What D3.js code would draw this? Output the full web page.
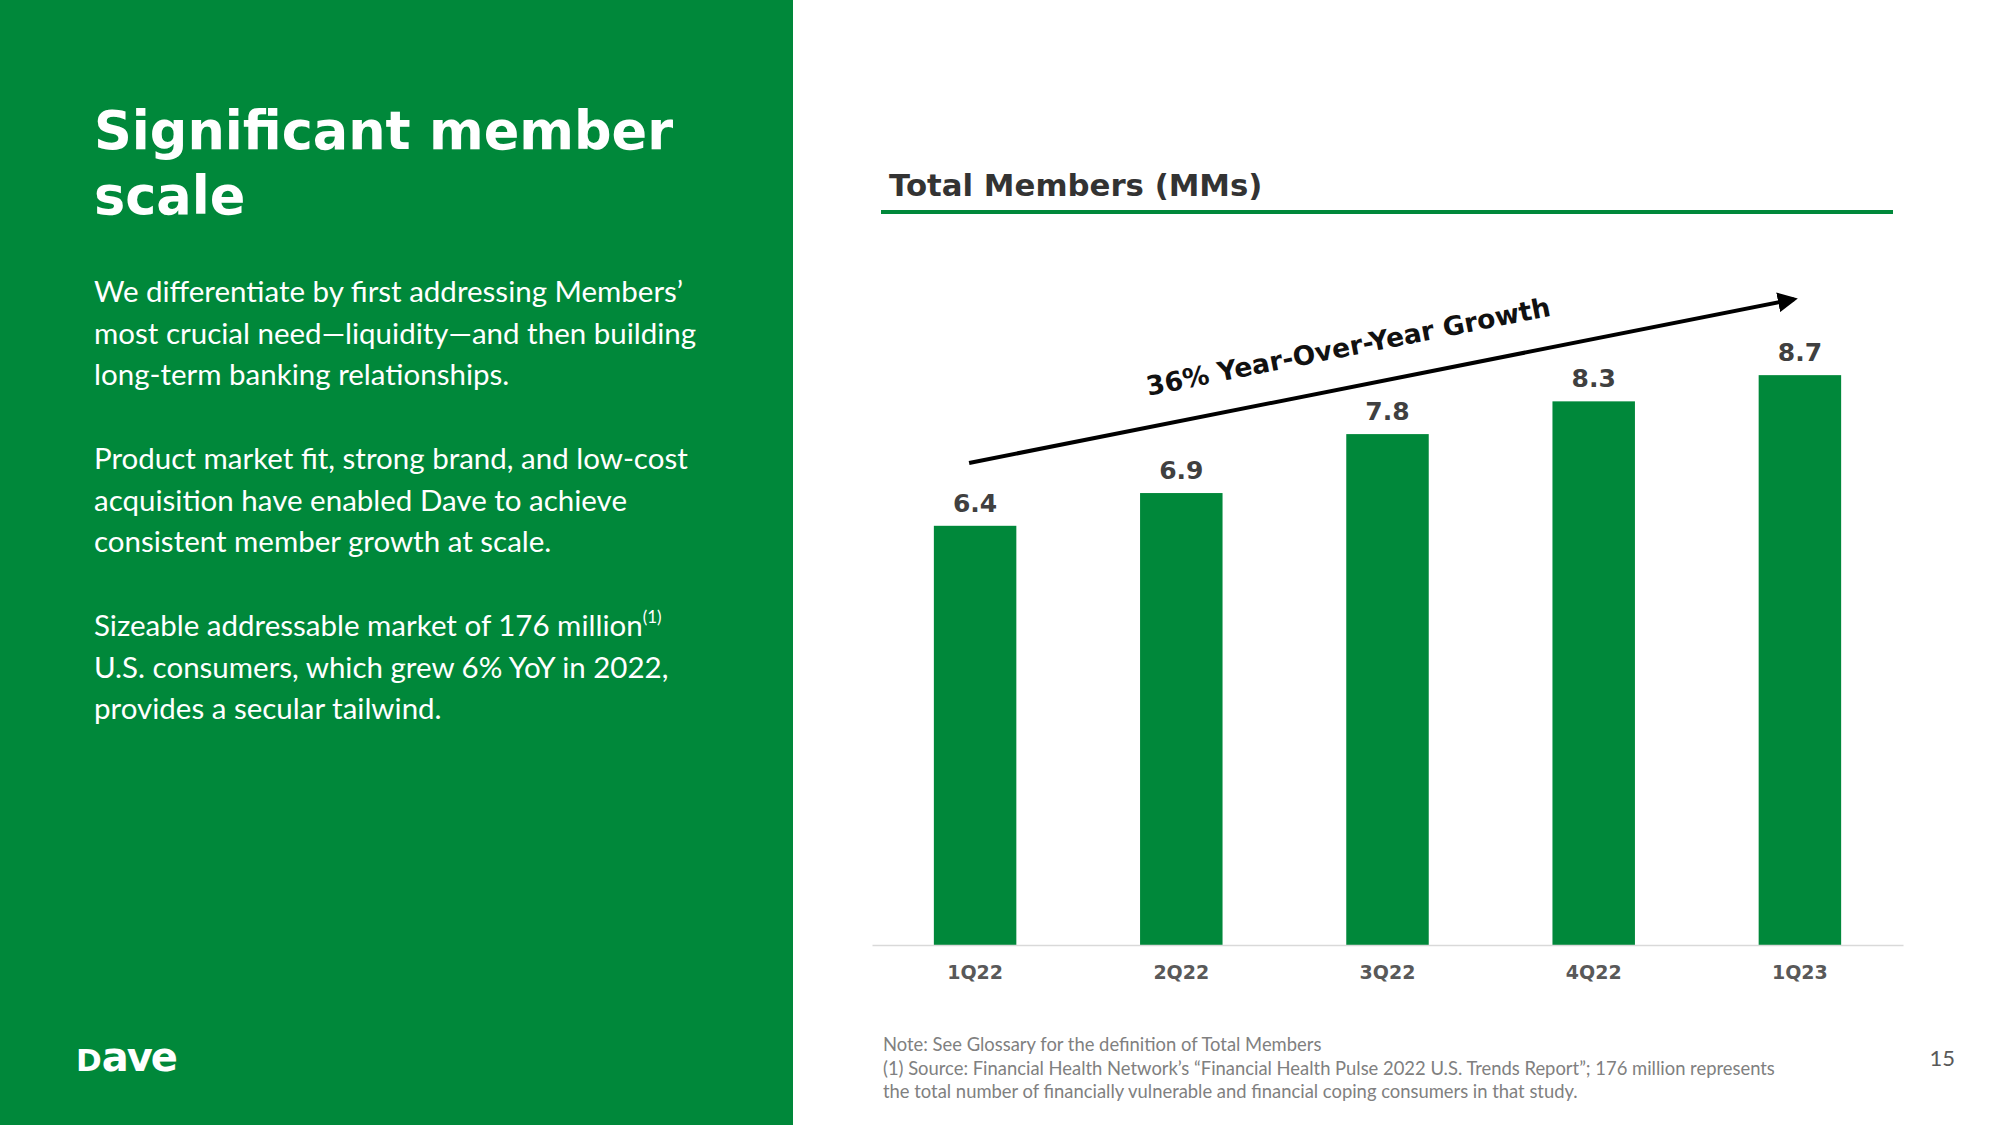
<!DOCTYPE html>
<html lang="en">
<head>
    <meta charset="UTF-8">
    <title>Significant member scale</title>
    <script src="https://d3js.org/d3.v7.min.js"></script>
    <style>
        body { margin: 0; background: #fff; }
        svg { display: block; }
        .head { font-family: "DejaVu Sans", sans-serif; font-weight: bold; }
        .body { font-family: Lato, sans-serif; }
    </style>
</head>
<body>
    <svg id="svg" width="2000" height="1125"></svg>
    <script>
        // chart data
        const quarters = ["1Q22", "2Q22", "3Q22", "4Q22", "1Q23"];
        const members = [6.4, 6.9, 7.8, 8.3, 8.7];
        // growth arrow, in member units (start level at 1Q22, end level at 1Q23)
        const arrowLevels = [7.36, 9.86];
        const arrowLabel = "36% Year-Over-Year Growth";

        const titleLines = ["Significant member", "scale"];
        const paragraphs = [
            ["We differentiate by first addressing Members\u2019",
             "most crucial need\u2014liquidity\u2014and then building",
             "long-term banking relationships."],
            ["Product market fit, strong brand, and low-cost",
             "acquisition have enabled Dave to achieve",
             "consistent member growth at scale."],
            ["Sizeable addressable market of 176 million",
             "U.S. consumers, which grew 6% YoY in 2022,",
             "provides a secular tailwind."]
        ];
        const notes = [
            "Note: See Glossary for the definition of Total Members",
            "(1) Source: Financial Health Network\u2019s \u201cFinancial Health Pulse 2022 U.S. Trends Report\u201d; 176 million represents",
            "the total number of financially vulnerable and financial coping consumers in that study."
        ];

        const green = "#00883a";
        const svg = d3.select("#svg");

        // left panel
        svg.append("rect").attr("width", 793).attr("height", 1125).attr("fill", green);

        svg.append("g").selectAll("text")
            .data(titleLines)
            .enter().append("text")
            .attr("class", "head")
            .attr("x", 94)
            .attr("y", (d, i) => 149 + i * 65)
            .attr("font-size", 52.5)
            .attr("fill", "#fff")
            .text(d => d);

        const paraTop = [302, 469, 636];
        paragraphs.forEach((lines, p) => {
            const t = svg.append("g");
            lines.forEach((line, i) => {
                const txt = t.append("text")
                    .attr("class", "body")
                    .attr("x", 94)
                    .attr("y", paraTop[p] + i * 41.5)
                    .attr("font-size", 29.5)
                    .attr("fill", "#fff")
                    .text(line);
                if (p === 2 && i === 0) {
                    txt.append("tspan").attr("font-size", 17).attr("dy", -13).text("(1)");
                }
            });
        });

        // logo
        const logo = svg.append("text")
            .attr("x", 76).attr("y", 1071)
            .attr("font-family", "DejaVu Sans, sans-serif")
            .attr("font-weight", "bold")
            .attr("fill", "#fff");
        logo.append("tspan").attr("font-size", 31).text("D");
        logo.append("tspan").attr("font-size", 40).attr("letter-spacing", -2).text("ave");

        // chart title
        svg.append("text")
            .attr("class", "head")
            .attr("x", 889).attr("y", 196)
            .attr("font-size", 30.8)
            .attr("fill", "#333")
            .text("Total Members (MMs)");
        svg.append("line")
            .attr("x1", 881).attr("x2", 1893)
            .attr("y1", 212).attr("y2", 212)
            .attr("stroke", green).attr("stroke-width", 4);

        // scales
        const x = d3.scaleBand()
            .domain(quarters)
            .range([872, 1903])
            .paddingInner(0.6)
            .paddingOuter(0.3);
        const y = d3.scaleLinear()
            .domain([0, 10])
            .range([945, 290]);

        // bars
        svg.append("g")
            .selectAll("rect")
            .data(members)
            .enter().append("rect")
            .attr("x", (d, i) => x(quarters[i]))
            .attr("y", d => y(d))
            .attr("width", x.bandwidth())
            .attr("height", d => y(0) - y(d))
            .attr("fill", green);

        // value labels
        svg.append("g")
            .selectAll("text")
            .data(members)
            .enter().append("text")
            .attr("class", "head")
            .attr("x", (d, i) => x(quarters[i]) + x.bandwidth() / 2)
            .attr("y", d => y(d) - 14)
            .attr("text-anchor", "middle")
            .attr("font-size", 25)
            .attr("fill", "#404040")
            .text(d => d.toFixed(1));

        // x axis
        const xAxis = svg.append("g")
            .attr("transform", `translate(0,${y(0)})`)
            .call(d3.axisBottom(x).tickSize(0).tickPadding(21));
        xAxis.select(".domain").attr("stroke", "#d9d9d9").attr("stroke-width", 1.5);
        xAxis.selectAll("text")
            .attr("class", "head")
            .attr("font-size", 19)
            .attr("fill", "#595959");

        // growth arrow
        svg.append("defs").append("marker")
            .attr("id", "head")
            .attr("viewBox", "0 0 10 10")
            .attr("refX", 8).attr("refY", 5)
            .attr("markerWidth", 5).attr("markerHeight", 5)
            .attr("markerUnits", "strokeWidth")
            .attr("orient", "auto")
            .append("path").attr("d", "M0,0 L10,5 L0,10 z").attr("fill", "#000");

        const x0 = x(quarters[0]) + x.bandwidth() / 2 - 6;
        const x1 = x(quarters[quarters.length - 1]) + x.bandwidth() / 2 - 6;
        const y0 = y(arrowLevels[0]), y1 = y(arrowLevels[1]);
        svg.append("line")
            .attr("x1", x0).attr("y1", y0)
            .attr("x2", x1).attr("y2", y1)
            .attr("stroke", "#000").attr("stroke-width", 4)
            .attr("marker-end", "url(#head)");

        const angle = Math.atan2(y1 - y0, x1 - x0) * 180 / Math.PI;
        const cx = 1356, cy = y0 + (cx - x0) * (y1 - y0) / (x1 - x0);
        svg.append("text")
            .attr("class", "head")
            .attr("transform", `translate(${cx},${cy}) rotate(${angle}) translate(0,-31)`)
            .attr("text-anchor", "middle")
            .attr("font-size", 26.5)
            .attr("fill", "#111")
            .text(arrowLabel);

        // footnotes
        svg.append("g").selectAll("text")
            .data(notes)
            .enter().append("text")
            .attr("class", "body")
            .attr("x", 883)
            .attr("y", (d, i) => 1051 + i * 23.5)
            .attr("font-size", 18.4)
            .attr("fill", "#808080")
            .text(d => d);

        svg.append("text")
            .attr("class", "body")
            .attr("x", 1955).attr("y", 1066)
            .attr("text-anchor", "end")
            .attr("font-size", 22)
            .attr("fill", "#595959")
            .text("15");
    </script>
</body>
</html>
